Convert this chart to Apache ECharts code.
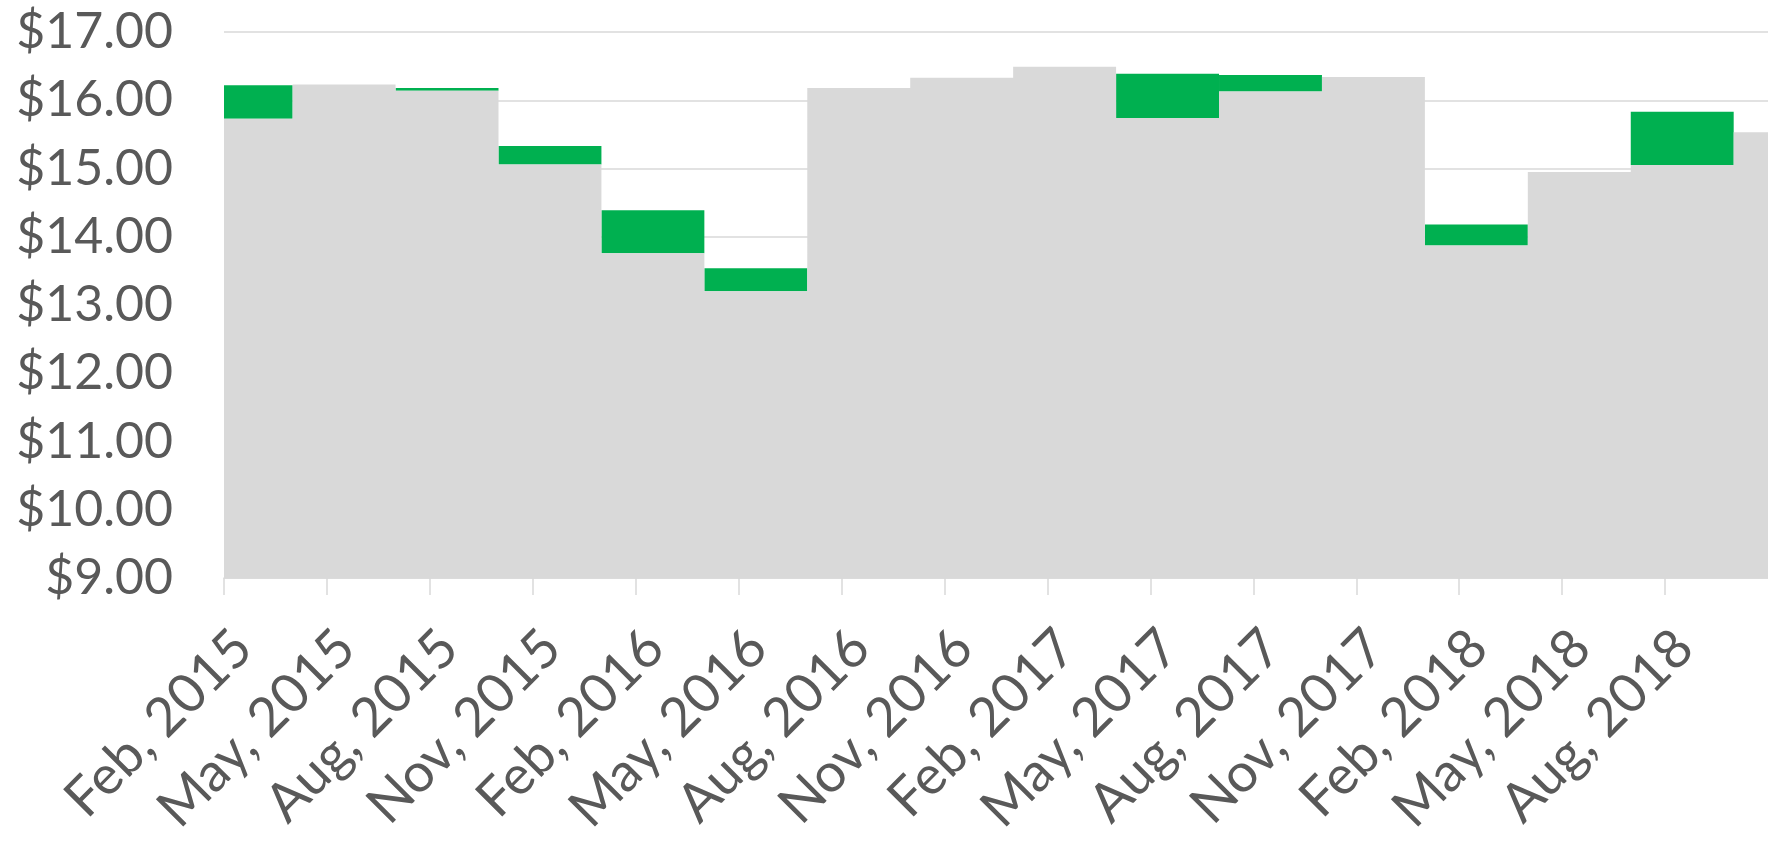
<!DOCTYPE html>
<html>
<head>
<meta charset="utf-8">
<title>Quarterly price range</title>
<script src="https://cdn.jsdelivr.net/npm/echarts@6/dist/echarts.min.js"></script>
<style>
  html, body { margin: 0; padding: 0; background: #fff; }
  #chart { width: 1768px; height: 844px; }
</style>
</head>
<body>
<div id="chart"></div>
<script>
// x runs in months, 0 = Feb 2015; each segment is one quarter
const segStart = [0, 2, 5, 8, 11, 14, 17, 20, 23, 26, 29, 32, 35, 38, 41, 44];
const segEnd   = [2, 5, 8, 11, 14, 17, 20, 23, 26, 29, 32, 35, 38, 41, 44, 45];
// low value (grey) and high value (top of green range)
const lowValues  = [15.73, 16.23, 16.14, 15.06, 13.76, 13.20, 16.18, 16.33, 16.49, 15.74, 16.13, 16.34, 13.87, 14.95, 15.05, 15.53];
const highValues = [16.22, 16.23, 16.18, 15.33, 14.39, 13.54, 16.18, 16.33, 16.49, 16.39, 16.37, 16.34, 14.18, 14.95, 15.83, 15.53];
const tickLabels = ['Feb, 2015', 'May, 2015', 'Aug, 2015', 'Nov, 2015', 'Feb, 2016', 'May, 2016',
  'Aug, 2016', 'Nov, 2016', 'Feb, 2017', 'May, 2017', 'Aug, 2017', 'Nov, 2017', 'Feb, 2018',
  'May, 2018', 'Aug, 2018'];

const yMin = 9;
const yMax = 17;
const textColor = '#595959';
const fontFamily = 'Lato, "Open Sans", sans-serif';

// grey step area: value holds from each segment start to the next one
const greyData = segStart.map((s, i) => [s, lowValues[i]]);
greyData.push([segEnd[segEnd.length - 1], lowValues[lowValues.length - 1]]);

const greenData = segStart
  .map((s, i) => [s, segEnd[i], lowValues[i], highValues[i]])
  .filter(d => d[3] > d[2]);

// floating block between [x0, x1] and [low, high] using the axis scales
function renderRange(params, api) {
  const p0 = api.coord([api.value(0), api.value(2)]);
  const p1 = api.coord([api.value(1), api.value(3)]);
  return {
    type: 'rect',
    shape: {
      x: p0[0],
      y: p1[1],
      width: p1[0] - p0[0],
      height: p0[1] - p1[1]
    },
    style: api.style()
  };
}

const myChart = echarts.init(document.getElementById('chart'));

const option = {
  animation: false,
  grid: { left: 224, right: 0, top: 32, bottom: 266, outerBoundsMode: 'none', containLabel: false },
  xAxis: {
    type: 'value',
    min: 0,
    max: 45,
    interval: 3,
    splitLine: { show: false },
    axisLine: { show: true, lineStyle: { color: '#d9d9d9', width: 1.5 } },
    axisTick: { show: true, length: 17, lineStyle: { color: '#d9d9d9', width: 1.5 } },
    axisLabel: {
      rotate: 45,
      margin: 42,
      verticalAlign: 'top',
      color: textColor,
      fontFamily: fontFamily,
      fontSize: 54,
      showMaxLabel: false,
      formatter: v => tickLabels[v / 3] || ''
    }
  },
  yAxis: {
    type: 'value',
    min: yMin,
    max: yMax,
    interval: 1,
    axisLine: { show: false },
    axisTick: { show: false },
    splitLine: { lineStyle: { color: '#d9d9d9', width: 1.5 } },
    axisLabel: {
      margin: 51,
      color: textColor,
      fontFamily: fontFamily,
      fontSize: 50,
      formatter: v => '$' + v.toFixed(2)
    }
  },
  series: [
    {
      name: 'Low',
      type: 'line',
      step: 'end',
      symbol: 'none',
      lineStyle: { width: 0 },
      areaStyle: { color: '#d9d9d9', opacity: 1, origin: 'start' },
      data: greyData
    },
    {
      name: 'Range',
      type: 'custom',
      renderItem: renderRange,
      clip: true,
      itemStyle: { color: '#00b050' },
      encode: { x: [0, 1], y: [2, 3] },
      data: greenData
    }
  ]
};

myChart.setOption(option);
</script>
</body>
</html>
